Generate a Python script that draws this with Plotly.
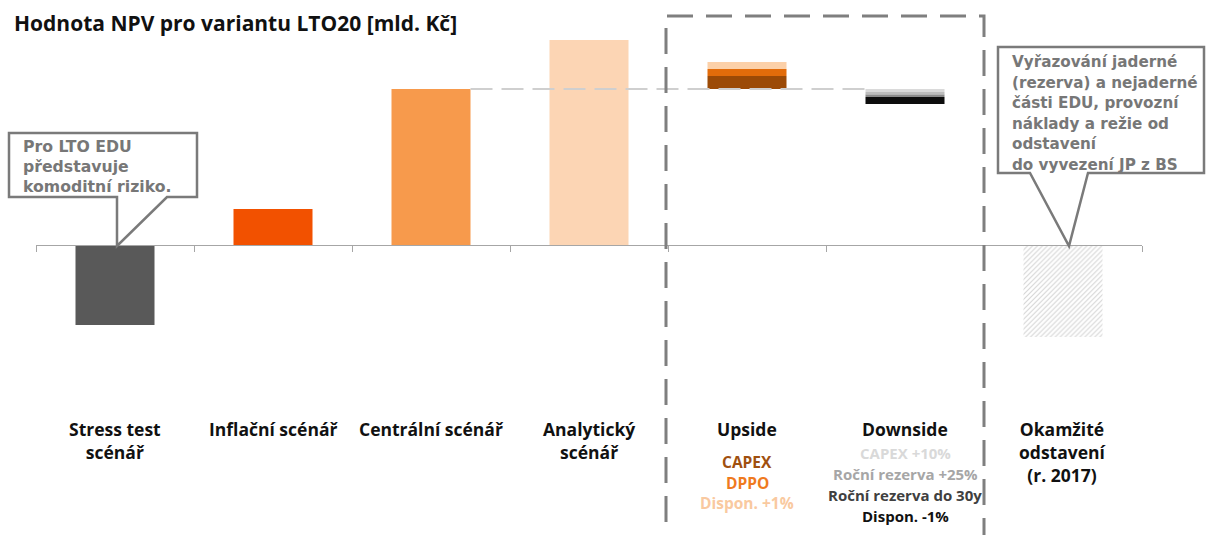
import plotly.graph_objects as go

W, H = 1206, 535

categories = ["Stress test<br>scénář", "Inflační scénář", "Centrální scénář", "Analytický<br>scénář",
              "Upside", "Downside", "Okamžité<br>odstavení<br>(r. 2017)"]
main_values = [-8.0, 3.6, 15.6, 20.5, None, None, -9.2]
main_colors = ["#595959", "#F25100", "#F79A4C", "#FCD5B4", None, None, None]

upside_labels = ["CAPEX", "DPPO", "Dispon. +1%"]
upside_steps = [1.3, 0.7, 0.7]
upside_colors = ["#9C4A06", "#E36C0A", "#FCD0A8"]
upside_text_colors = ["#A0500F", "#EF7A1E", "#F9C9A0"]

downside_labels = ["CAPEX +10%", "Roční rezerva +25%", "Roční rezerva do 30y", "Dispon. -1%"]
downside_steps = [-0.3, -0.25, -0.25, -0.7]
downside_colors = ["#DADADA", "#BDBDBD", "#8C8C8C", "#0D0D0D"]
downside_text_colors = ["#D9D9D9", "#A6A6A6", "#404040", "#111111"]

callout_left = ["Pro LTO EDU", "představuje", "komoditní riziko."]
callout_right = ["Vyřazování jaderné", "(rezerva) a nejaderné", "části EDU, provozní",
                 "náklady a režie od", "odstavení", "do vyvezení JP z BS"]
title = "Hodnota NPV pro variantu LTO20 [mld. Kč]"

x_idx = list(range(len(categories)))
central = main_values[2]
BW = 0.5

LABEL_FONT = "Open Sans"
CALLOUT_FONT = "DejaVu Sans"

def px(x):
    return x / W

def py(y):
    return 1 - y / H

fig = go.Figure()

# connector dashed line at central value
fig.add_trace(go.Scatter(x=[2 + BW / 2, 5 - BW / 2], y=[central, central], mode="lines",
                         line=dict(color="#CFCFCF", width=2, dash="22px,9px"),
                         hoverinfo="skip", showlegend=False))

# main solid bars
for i, v in enumerate(main_values):
    if v is None or main_colors[i] is None:
        continue
    fig.add_trace(go.Bar(x=[x_idx[i]], y=[v], width=BW, marker_color=main_colors[i],
                         marker_line_width=0, showlegend=False))

# hatched bar
fig.add_trace(go.Bar(x=[x_idx[6]], y=[main_values[6]], width=BW,
                     marker=dict(color="white", line_width=0,
                                 pattern=dict(shape="/", fgcolor="#A8A8A8", bgcolor="white",
                                              size=3.5, solidity=0.3)),
                     showlegend=False))

# upside stack
base = central
for s, c in zip(upside_steps, upside_colors):
    fig.add_trace(go.Bar(x=[x_idx[4]], y=[s], base=[base], width=BW, marker_color=c,
                         marker_line_width=0, showlegend=False))
    base += s

# downside stack
base = central
for s, c in zip(downside_steps, downside_colors):
    fig.add_trace(go.Bar(x=[x_idx[5]], y=[s], base=[base], width=BW, marker_color=c,
                         marker_line_width=0, showlegend=False))
    base += s

shapes = []
# dashed box
shapes.append(dict(type="path", xref="paper", yref="paper",
                   path=f"M {px(666)},{py(600)} L {px(666)},{py(16)} L {px(984)},{py(16)} L {px(984)},{py(600)}",
                   line=dict(color="#7F7F7F", width=3, dash="26px,13px")))

# callouts
def callout(pts):
    p = "M " + " L ".join(f"{px(a)},{py(b)}" for a, b in pts) + " Z"
    return dict(type="path", xref="paper", yref="paper", path=p, fillcolor="white",
                line=dict(color="#7A7A7A", width=2.5), layer="above")

shapes.append(callout([(9, 133), (197, 133), (197, 197), (167, 197), (117, 246), (117, 197), (9, 197)]))
shapes.append(callout([(998, 47), (1204, 47), (1204, 173), (1088, 173), (1069, 246), (1030, 173), (998, 173)]))

annotations = []
annotations.append(dict(text=f"<b>{title}</b>", x=px(12), y=py(23), xref="paper", yref="paper",
                        xanchor="left", yanchor="middle", showarrow=False,
                        font=dict(family=LABEL_FONT, size=21, color="#111111")))

for k, t in enumerate(callout_left):
    annotations.append(dict(text=f"<b>{t}</b>", x=px(21), y=py(147 + 20 * k), xref="paper", yref="paper",
                            xanchor="left", yanchor="middle", showarrow=False,
                            font=dict(family=CALLOUT_FONT, size=15.7, color="#777777")))
for k, t in enumerate(callout_right):
    annotations.append(dict(text=f"<b>{t}</b>", x=px(1010), y=py(62 + 20.6 * k), xref="paper", yref="paper",
                            xanchor="left", yanchor="middle", showarrow=False,
                            font=dict(family=CALLOUT_FONT, size=15.2, color="#777777")))

for i, c in enumerate(categories):
    annotations.append(dict(text="<b>" + c.replace("<br>", "</b><br><b>") + "</b>",
                            x=x_idx[i], y=py(415), xref="x", yref="paper",
                            xanchor="center", yanchor="top", showarrow=False, align="center",
                            font=dict(family=LABEL_FONT, size=17.5, color="#111111")))

for k, (t, col) in enumerate(zip(upside_labels, upside_text_colors)):
    annotations.append(dict(text=f"<b>{t}</b>", x=x_idx[4], y=py(462 + 20.5 * k), xref="x", yref="paper",
                            xanchor="center", yanchor="middle", showarrow=False,
                            font=dict(family=LABEL_FONT, size=15.5, color=col)))
for k, (t, col) in enumerate(zip(downside_labels, downside_text_colors)):
    annotations.append(dict(text=f"<b>{t}</b>", x=x_idx[5], y=py(453 + 21 * k), xref="x", yref="paper",
                            xanchor="center", yanchor="middle", showarrow=False,
                            font=dict(family=LABEL_FONT, size=15, color=col)))

zero_px = 245
ppu = 10.0
y_top = zero_px / ppu
y_bot = -(H - zero_px) / ppu

fig.update_layout(
    width=W, height=H, margin=dict(l=0, r=0, t=0, b=0),
    paper_bgcolor="white", plot_bgcolor="white",
    barmode="overlay", showlegend=False,
    xaxis=dict(domain=[36 / W, 1142 / W], range=[-0.5, 6.5], anchor="free",
               position=1 - zero_px / H, showline=True, linecolor="#A6A6A6", linewidth=1.3,
               ticks="outside", ticklen=6, tickcolor="#A6A6A6", tickwidth=1.3,
               tickvals=[i - 0.5 for i in range(len(categories) + 1)],
               showticklabels=False, showgrid=False, zeroline=False, fixedrange=True),
    yaxis=dict(range=[y_bot, y_top], visible=False, domain=[0, 1], fixedrange=True),
    shapes=shapes, annotations=annotations,
)

fig.write_html("out.html")
